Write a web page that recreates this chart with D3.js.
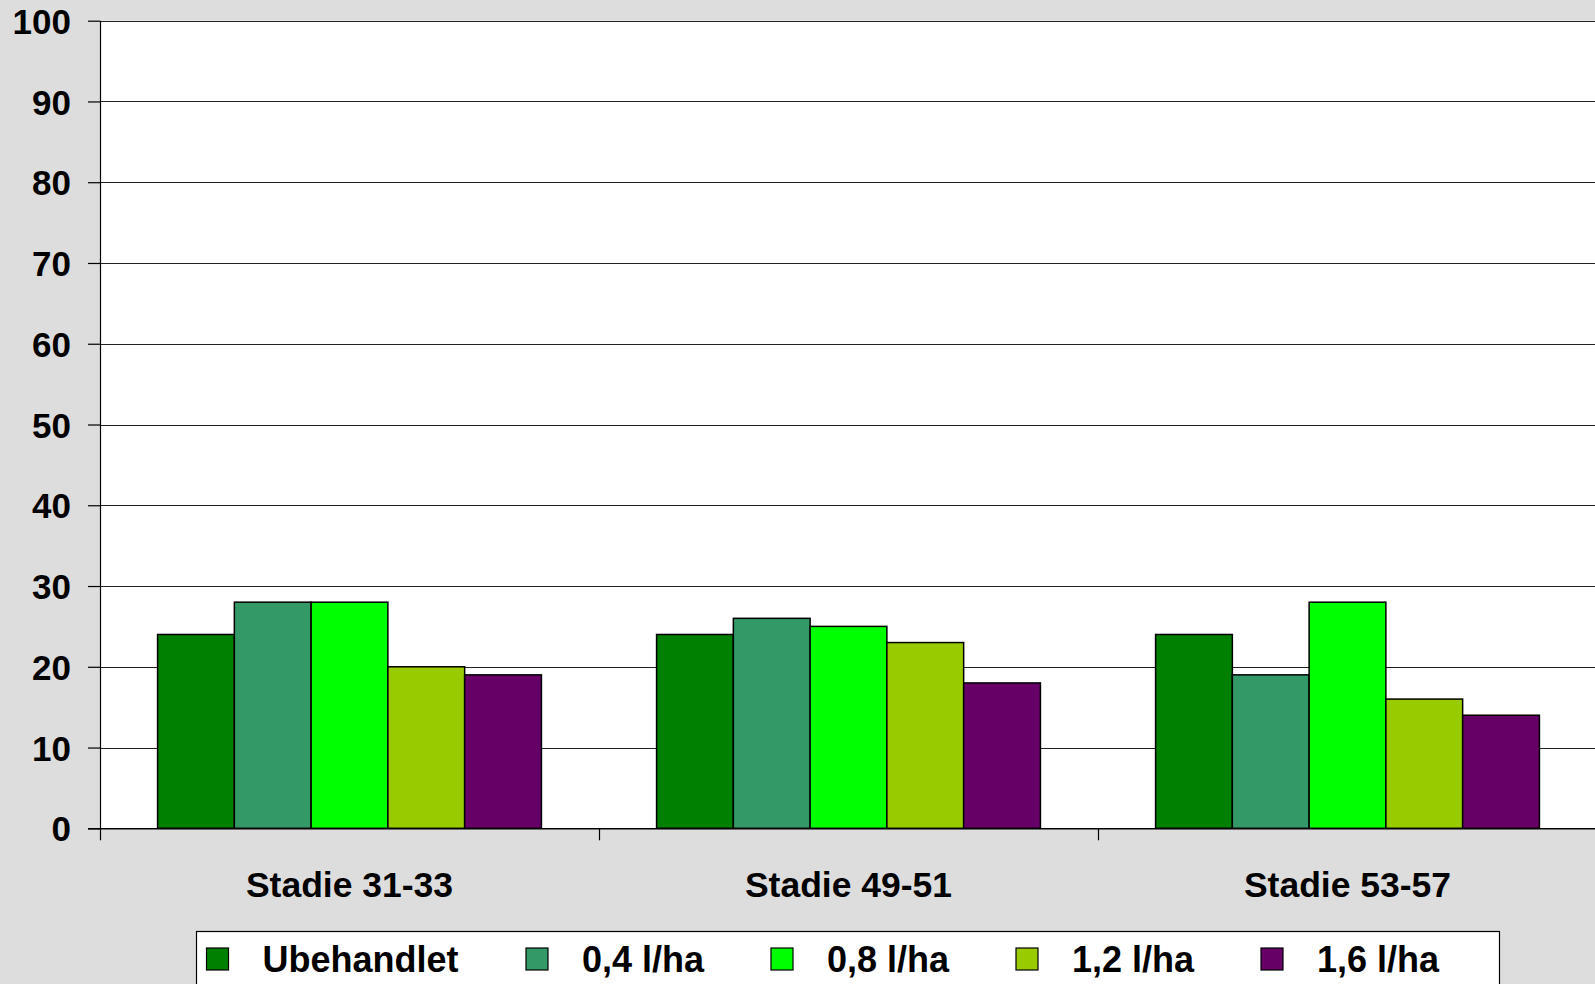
<!DOCTYPE html>
<html><head><meta charset="utf-8">
<script src="https://cdn.jsdelivr.net/npm/d3@7"></script>
<style>html,body{margin:0;padding:0;background:#dddddd;overflow:hidden}</style>
</head><body>
<svg id="c" width="1595" height="984"></svg>
<script>
const categories = ["Stadie 31-33", "Stadie 49-51", "Stadie 53-57"];
const seriesNames = ["Ubehandlet", "0,4 l/ha", "0,8 l/ha", "1,2 l/ha", "1,6 l/ha"];
const seriesColors = ["#008000", "#339966", "#00ff00", "#99cc00", "#660066"];
const ubehandlet = [24, 24, 24];
const l04 = [28, 26, 19];
const l08 = [28, 25, 28];
const l12 = [20, 23, 16];
const l16 = [19, 18, 14];
const yTicks = [0, 10, 20, 30, 40, 50, 60, 70, 80, 90, 100];
const seriesValues = [ubehandlet, l04, l08, l12, l16];

(function () {
const svg = d3.select("#c");
const font = "'Liberation Sans', Arial, sans-serif";
const pL = 100, pR = 1597, pT = 20.7, pB = 828.3;

const x = d3.scaleBand().domain(categories).range([pL, pR]).paddingInner(0).paddingOuter(0);
const y = d3.scaleLinear().domain([0, 100]).range([pB, pT]);
const slot = x.bandwidth() / 6.5;
const xs = d3.scaleBand().domain(seriesNames).range([slot * 0.75, slot * 5.75]).padding(0);

svg.append("rect").attr("x", pL).attr("y", pT).attr("width", 1595 - pL).attr("height", pB - pT).attr("fill", "#fff");

// gridlines
svg.append("g").selectAll("line").data(yTicks.filter(d => d > 0)).join("line")
  .attr("x1", pL).attr("x2", 1595).attr("y1", d => Math.round(y(d)) + 0.5).attr("y2", d => Math.round(y(d)) + 0.5)
  .attr("stroke", "#222").attr("stroke-width", 1.2);

// bars
const data = [];
categories.forEach((c, i) => seriesNames.forEach((s, j) => data.push({c, s, v: seriesValues[j][i], color: seriesColors[j]})));
svg.append("g").selectAll("rect").data(data).join("rect")
  .attr("x", d => x(d.c) + xs(d.s)).attr("width", xs.bandwidth())
  .attr("y", d => y(d.v)).attr("height", d => y(0) - y(d.v))
  .attr("fill", d => d.color).attr("stroke", "#000").attr("stroke-width", 1.5);

// y axis
const yAxis = d3.axisLeft(y).tickValues(yTicks).tickSize(12).tickPadding(17).tickFormat(d3.format("d"));
const gy = svg.append("g").attr("transform", `translate(${pL},0)`).call(yAxis);
gy.select(".domain").attr("stroke", "#000").attr("stroke-width", 1.2).attr("d", `M0.5,${pT}V${pB}`);
gy.selectAll(".tick line").attr("stroke", "#000").attr("stroke-width", 1.2);
gy.selectAll(".tick text").attr("font-family", font).attr("font-size", 35).attr("font-weight", "bold").attr("fill", "#000").attr("dy", "0.36em");

// x axis
const xAxis = d3.axisBottom(x).tickSize(0).tickPadding(0);
const gx = svg.append("g").attr("transform", `translate(0,${pB})`).call(xAxis);
gx.select(".domain").attr("stroke", "#000").attr("stroke-width", 1.5).attr("d", `M${pL - 12},0.5H1595`);
gx.selectAll(".tick text").attr("font-family", font).attr("font-size", 35.5).attr("font-weight", "bold").attr("fill", "#000").attr("dy", 0).attr("y", 69);
svg.append("g").selectAll("line").data(categories).join("line")
  .attr("x1", d => x(d) + 0.5).attr("x2", d => x(d) + 0.5).attr("y1", pB).attr("y2", pB + 12)
  .attr("stroke", "#000").attr("stroke-width", 1.2);

// legend
const lg = svg.append("g");
lg.append("rect").attr("x", 196.5).attr("y", 931.5).attr("width", 1303).attr("height", 80).attr("fill", "#fff").attr("stroke", "#000").attr("stroke-width", 1.2);
const lx = [206.5, 526, 771, 1016, 1261];
const items = lg.selectAll("g.item").data(seriesNames).join("g").attr("class", "item")
  .attr("transform", (d, i) => `translate(${lx[i]},0)`);
items.append("rect").attr("x", 0).attr("y", 948).attr("width", 22).attr("height", 22)
  .attr("fill", (d, i) => seriesColors[i]).attr("stroke", "#000").attr("stroke-width", 1.2);
items.append("text").attr("x", 56).attr("y", 972).text(d => d)
  .attr("font-family", font).attr("font-size", 36).attr("font-weight", "bold").attr("fill", "#000");
})();
</script>
</body></html>
